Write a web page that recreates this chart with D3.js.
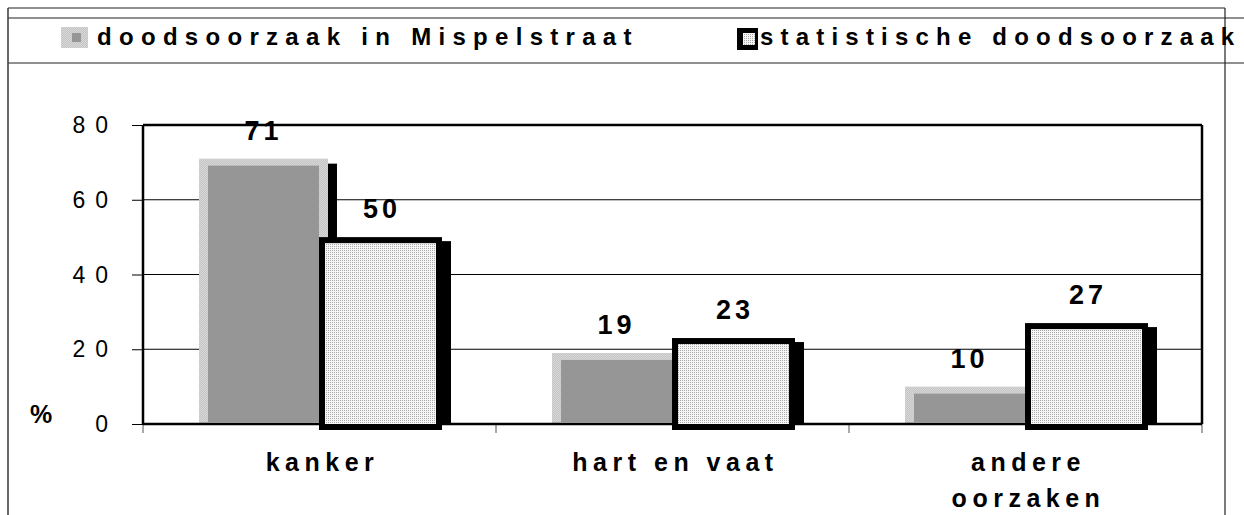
<!DOCTYPE html>
<html>
<head>
<meta charset="utf-8">
<script src="https://cdnjs.cloudflare.com/ajax/libs/d3/7.8.5/d3.min.js"></script>
<style>
  html, body { margin: 0; padding: 0; background: #fff; }
  svg { display: block; }
  text { font-family: "Liberation Sans", Arial, sans-serif; fill: #000; }
</style>
</head>
<body>
<svg id="chart" width="1244" height="515"></svg>
<script>
// ---- data ----
const categories = ["kanker", "hart en vaat", "andere oorzaken"];
const categoryLines = [["kanker"], ["hart en vaat"], ["andere", "oorzaken"]];
const seriesNames = ["doodsoorzaak in Mispelstraat", "statistische doodsoorzaak"];
const mispelstraat = [71, 19, 10];
const statistisch = [50, 23, 27];
const yTicks = [0, 20, 40, 60, 80];
const yLabel = "%";

// ---- layout ----
const W = 1244, H = 515;
const plot = { left: 143, right: 1202, top: 125, bottom: 424 };
const svg = d3.select("#chart");

const defs = svg.append("defs");
const dots = defs.append("pattern").attr("id", "dots")
  .attr("patternUnits", "userSpaceOnUse").attr("width", 2).attr("height", 2);
dots.append("rect").attr("width", 2).attr("height", 2).attr("fill", "#f6f6f6");
dots.append("rect").attr("width", 1).attr("height", 1).attr("fill", "#a8a8a8");
const lg = defs.append("pattern").attr("id", "lightgrey")
  .attr("patternUnits", "userSpaceOnUse").attr("width", 2).attr("height", 2);
lg.append("rect").attr("width", 2).attr("height", 2).attr("fill", "#c4c4c4");
lg.append("rect").attr("width", 1).attr("height", 1).attr("fill", "#d8d8d8");
lg.append("rect").attr("x", 1).attr("y", 1).attr("width", 1).attr("height", 1).attr("fill", "#d8d8d8");

const x0 = d3.scaleBand().domain(categories).range([plot.left, plot.right]).padding(0);
const x1 = d3.scaleBand().domain(seriesNames).range([56, 296]).padding(0);
const y = d3.scaleLinear().domain([0, 80]).range([plot.bottom, plot.top]);
const bw = x1.bandwidth();

// ---- outer frame & legend box ----
const frame = svg.append("g").attr("stroke", "#222").attr("fill", "none");
frame.append("line").attr("x1", 8).attr("x2", 1225).attr("y1", 8).attr("y2", 8).attr("stroke-width", 1.2);
frame.append("line").attr("x1", 8).attr("x2", W).attr("y1", 18).attr("y2", 18).attr("stroke-width", 1.2);
frame.append("line").attr("x1", 8).attr("x2", W).attr("y1", 63).attr("y2", 63).attr("stroke-width", 1.2);
frame.append("line").attr("x1", 8).attr("x2", 8).attr("y1", 8).attr("y2", H).attr("stroke-width", 1.6).attr("stroke", "#444");
frame.append("line").attr("x1", 1225).attr("x2", 1225).attr("y1", 8).attr("y2", H).attr("stroke-width", 1.2);

// ---- legend ----
const leg = svg.append("g");
leg.append("rect").attr("x", 61).attr("y", 27).attr("width", 27).attr("height", 21).attr("fill", "url(#lightgrey)");
leg.append("rect").attr("x", 72).attr("y", 33).attr("width", 9).attr("height", 9).attr("fill", "#969696");
leg.append("text").attr("x", 97).attr("y", 45)
  .attr("font-size", 24).attr("font-weight", "bold").attr("letter-spacing", 7.3)
  .text(seriesNames[0]);
leg.append("rect").attr("x", 737).attr("y", 28).attr("width", 21).attr("height", 22).attr("fill", "#000");
leg.append("rect").attr("x", 743).attr("y", 33).attr("width", 12).attr("height", 12).attr("fill", "url(#dots)");
leg.append("text").attr("x", 760).attr("y", 45)
  .attr("font-size", 24).attr("font-weight", "bold").attr("letter-spacing", 7.2)
  .text(seriesNames[1]);

// ---- gridlines ----
svg.append("g").selectAll("line").data(yTicks.filter(d => d > 0 && d < 80)).join("line")
  .attr("x1", plot.left).attr("x2", plot.right)
  .attr("y1", d => y(d)).attr("y2", d => y(d))
  .attr("stroke", "#000").attr("stroke-width", 1);

// ---- y axis ----
const yAxis = svg.append("g").attr("transform", `translate(${plot.left},0)`)
  .call(d3.axisLeft(y).tickValues(yTicks).tickSize(11).tickPadding(14).tickFormat(d3.format("d")));
yAxis.select(".domain").remove();
yAxis.selectAll(".tick line").attr("stroke", "#000").attr("stroke-width", 1);
yAxis.selectAll(".tick text")
  .attr("font-size", 23).attr("letter-spacing", 10)
  .attr("font-family", "Liberation Sans, Arial, sans-serif").attr("dy", "0.33em");

svg.append("text").attr("x", 30).attr("y", 423)
  .attr("font-size", 25).attr("font-weight", "bold").text(yLabel);

// ---- x axis ticks ----
const xTickPos = categories.map(c => x0(c)).concat([plot.right]);
svg.append("g").selectAll("line").data(xTickPos).join("line")
  .attr("x1", d => d).attr("x2", d => d)
  .attr("y1", plot.bottom).attr("y2", plot.bottom + 9)
  .attr("stroke", "#555").attr("stroke-width", 1);

// ---- series 1 bars (grey, with black shadow) ----
const g1 = svg.append("g");
const grey = categories.map((c, i) => ({ c, v: mispelstraat[i] }));
g1.selectAll("rect.shadow").data(grey).join("rect").attr("class", "shadow")
  .attr("x", d => x0(d.c) + x1(seriesNames[0]) + bw + 9)
  .attr("y", d => y(d.v) + 5)
  .attr("width", 9)
  .attr("height", d => plot.bottom - y(d.v) - 5)
  .attr("fill", "#000");
g1.selectAll("rect.outer").data(grey).join("rect").attr("class", "outer")
  .attr("x", d => x0(d.c) + x1(seriesNames[0]))
  .attr("y", d => y(d.v))
  .attr("width", bw + 9)
  .attr("height", d => plot.bottom - y(d.v))
  .attr("fill", "url(#lightgrey)");
g1.selectAll("rect.inner").data(grey).join("rect").attr("class", "inner")
  .attr("x", d => x0(d.c) + x1(seriesNames[0]) + 9)
  .attr("y", d => y(d.v) + 7)
  .attr("width", bw - 9)
  .attr("height", d => plot.bottom - y(d.v) - 9)
  .attr("fill", "#969696");

// ---- series 2 bars (dotted, thick black border, black shadow) ----
const g2 = svg.append("g");
const stat = categories.map((c, i) => ({ c, v: statistisch[i] }));
g2.selectAll("rect.shadow").data(stat).join("rect").attr("class", "shadow")
  .attr("x", d => x0(d.c) + x1(seriesNames[1]) + bw + 3)
  .attr("y", d => y(d.v) + 4)
  .attr("width", 9)
  .attr("height", d => plot.bottom - y(d.v) - 4)
  .attr("fill", "#000");

// ---- plot frame / axes ----
const pf = svg.append("g").attr("stroke", "#000").attr("fill", "none").attr("stroke-width", 2.5);
pf.append("line").attr("x1", plot.left).attr("x2", plot.right).attr("y1", plot.top).attr("y2", plot.top);
pf.append("line").attr("x1", plot.right).attr("x2", plot.right).attr("y1", plot.top).attr("y2", plot.bottom);
pf.append("line").attr("x1", plot.left).attr("x2", plot.left).attr("y1", plot.top).attr("y2", plot.bottom + 1);
pf.append("line").attr("x1", plot.left).attr("x2", plot.right).attr("y1", plot.bottom).attr("y2", plot.bottom);

g2.raise();
g2.selectAll("rect.bar").data(stat).join("rect").attr("class", "bar")
  .attr("x", d => x0(d.c) + x1(seriesNames[1]) + 3)
  .attr("y", d => y(d.v) + 3)
  .attr("width", bw - 3)
  .attr("height", d => plot.bottom - y(d.v))
  .attr("fill", "url(#dots)")
  .attr("stroke", "#000").attr("stroke-width", 6);

// ---- value labels ----
const labels = svg.append("g").attr("font-size", 27).attr("font-weight", "bold").attr("text-anchor", "middle");
labels.selectAll("text.s1").data(grey).join("text").attr("class", "s1")
  .attr("x", d => x0(d.c) + x1(seriesNames[0]) + (bw + 9) / 2)
  .attr("y", d => y(d.v) - 19)
  .attr("letter-spacing", 4)
  .text(d => d.v);
labels.selectAll("text.s2").data(stat).join("text").attr("class", "s2")
  .attr("x", d => x0(d.c) + x1(seriesNames[1]) + bw / 2 + 3)
  .attr("y", d => y(d.v) - 19)
  .attr("letter-spacing", 4)
  .text(d => d.v);

// ---- category labels ----
const cat = svg.append("g").attr("font-size", 25).attr("font-weight", "bold").attr("text-anchor", "middle");
cat.selectAll("text").data(categories).join("text")
  .attr("x", d => x0(d) + x0.bandwidth() / 2 + 3)
  .attr("y", 471)
  .attr("letter-spacing", 5.5)
  .each(function (d, i) {
    const t = d3.select(this);
    categoryLines[i].forEach((line, j) => {
      t.append("tspan").attr("x", x0(d) + x0.bandwidth() / 2 + 3)
        .attr("dy", j === 0 ? 0 : 36).text(line);
    });
  });
</script>
</body>
</html>
